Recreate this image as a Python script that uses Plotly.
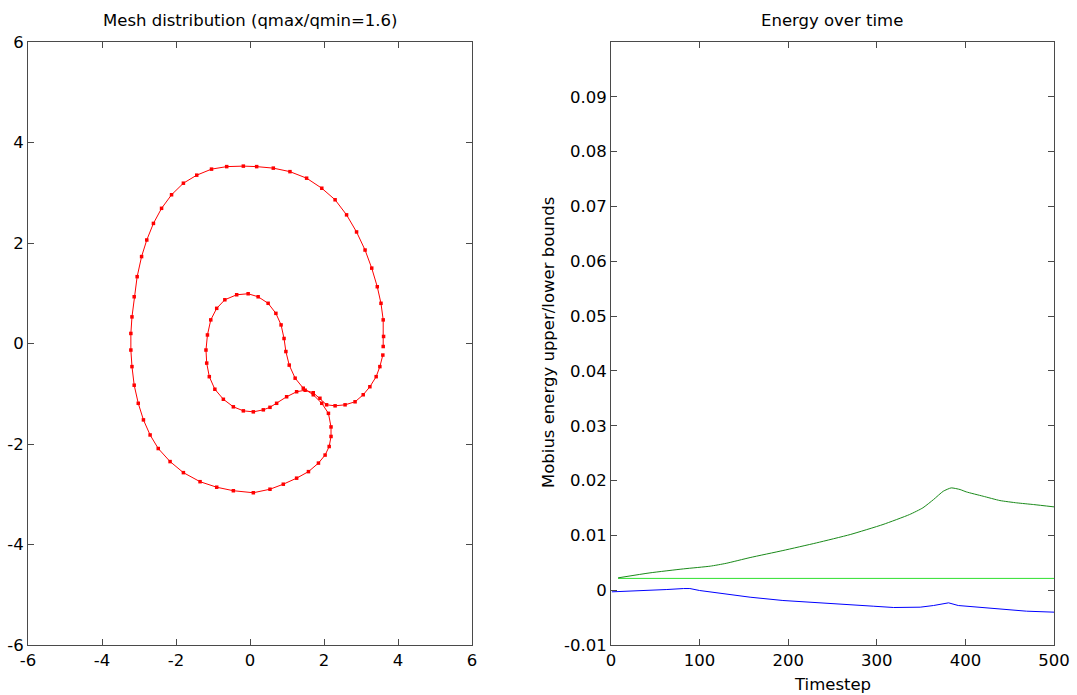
import plotly.graph_objects as go

# ---- Left panel: mesh curve (data units) ----
mesh_x = [3.59, 3.51, 3.41, 3.24, 3.06, 2.84, 2.57, 2.30, 2.07, 1.89, 1.71, 1.49, 1.26, 0.99, 0.72,
          0.54, 0.36, 0.09, -0.18, -0.45, -0.72, -0.95, -1.10, -1.17, -1.19, -1.15, -1.06, -0.90,
          -0.68, -0.36, -0.05, 0.22, 0.49, 0.70, 0.84, 0.92, 0.97, 1.06, 1.22, 1.44, 1.71, 1.94,
          2.12, 2.19, 2.19, 2.14, 2.03, 1.85, 1.58, 1.26, 0.90, 0.54, 0.09, -0.45, -0.90, -1.35,
          -1.80, -2.16, -2.48, -2.70, -2.88, -3.02, -3.13, -3.19, -3.22, -3.22, -3.19, -3.13, -3.05,
          -2.93, -2.79, -2.61, -2.39, -2.12, -1.80, -1.44, -1.04, -0.63, -0.18, 0.18, 0.63, 1.08,
          1.53, 1.94, 2.30, 2.61, 2.88, 3.11, 3.29, 3.44, 3.54, 3.60, 3.61, 3.60]
mesh_y = [-0.23, -0.46, -0.66, -0.86, -1.02, -1.16, -1.22, -1.24, -1.22, -1.09, -0.98, -0.93, -0.96,
          -1.06, -1.19, -1.27, -1.32, -1.36, -1.34, -1.26, -1.11, -0.91, -0.66, -0.39, -0.13, 0.17,
          0.47, 0.70, 0.87, 0.97, 0.99, 0.93, 0.80, 0.60, 0.37, 0.10, -0.16, -0.43, -0.69, -0.89,
          -1.02, -1.19, -1.39, -1.66, -1.85, -2.05, -2.22, -2.38, -2.55, -2.68, -2.80, -2.90, -2.97,
          -2.93, -2.86, -2.75, -2.57, -2.35, -2.09, -1.82, -1.52, -1.19, -0.83, -0.46, -0.13, 0.20,
          0.53, 0.93, 1.33, 1.73, 2.06, 2.39, 2.69, 2.96, 3.19, 3.35, 3.47, 3.52, 3.53, 3.52, 3.49,
          3.42, 3.29, 3.09, 2.86, 2.56, 2.22, 1.86, 1.50, 1.13, 0.80, 0.47, 0.14, -0.06]

mesh_ticks = [-6, -4, -2, 0, 2, 4, 6]
mesh_ticktext = ["-6", "-4", "-2", "0", "2", "4", "6"]

# ---- Right panel: energy bounds over time ----
upper_t = [8, 44, 82, 112, 130, 157, 194, 232, 270, 307, 337, 352, 364, 375, 384, 394, 401,
           420, 439, 458, 477, 500]
upper_e = [0.00225, 0.00316, 0.00389, 0.00438, 0.00490, 0.00595, 0.00723, 0.00863, 0.01015,
           0.01198, 0.0138, 0.01502, 0.01653, 0.01805, 0.01866, 0.01836, 0.01793, 0.01714,
           0.01635, 0.01593, 0.01562, 0.0152]
lower_t = [1, 25, 44, 63, 82, 89, 100, 127, 157, 194, 232, 258, 296, 319, 349, 364, 381, 392,
           401, 420, 439, 469, 500]
lower_e = [-0.0003, -0.00018, -0.00006, 0.00012, 0.0003, 0.0003, -0.00006, -0.00067, -0.00128,
           -0.00188, -0.00231, -0.00261, -0.00292, -0.00316, -0.0031, -0.0028, -0.00231, -0.0028,
           -0.00292, -0.00322, -0.00347, -0.00383, -0.00401]
initial_t = [8, 500]
initial_e = [0.00215, 0.00215]

energy_ticks = [-0.01, 0, 0.01, 0.02, 0.03, 0.04, 0.05, 0.06, 0.07, 0.08, 0.09]
energy_ticktext = ["-0.01", "0", "0.01", "0.02", "0.03", "0.04", "0.05", "0.06", "0.07", "0.08", "0.09"]
time_ticks = [0, 100, 200, 300, 400, 500]

FONT = "DejaVu Sans, Liberation Sans, sans-serif"
FS = 16.5
W, H = 1077, 695
frame_top, frame_bot = 42, 645
ydom = [1 - frame_bot / H, 1 - frame_top / H]

fig = go.Figure()
fig.add_trace(go.Scatter(x=mesh_x, y=mesh_y, mode="lines+markers", xaxis="x", yaxis="y",
                         line=dict(color="#ff0000", width=1),
                         marker=dict(color="#ff0000", size=3.5, symbol="square")))
fig.add_trace(go.Scatter(x=initial_t, y=initial_e, mode="lines", xaxis="x2", yaxis="y2",
                         line=dict(color="#2ee02e", width=1)))
fig.add_trace(go.Scatter(x=upper_t, y=upper_e, mode="lines", xaxis="x2", yaxis="y2",
                         line=dict(color="#1a8a1a", width=1, shape="spline", smoothing=0.5)))
fig.add_trace(go.Scatter(x=lower_t, y=lower_e, mode="lines", xaxis="x2", yaxis="y2",
                         line=dict(color="#0000ff", width=1)))

axis_common = dict(showgrid=False, zeroline=False, showline=True, linecolor="#4a4a4a", linewidth=1,
                   mirror="ticks", ticks="inside", ticklen=6, tickcolor="#4a4a4a", automargin=False,
                   tickfont=dict(family=FONT, size=FS, color="#000000"))

fig.update_layout(
    width=W, height=H, margin=dict(l=0, r=0, t=0, b=0),
    paper_bgcolor="white", plot_bgcolor="white", showlegend=False,
    xaxis=dict(domain=[28 / W, 472 / W], range=[-6, 6], tickvals=mesh_ticks, ticktext=mesh_ticktext,
               anchor="y", **axis_common),
    yaxis=dict(domain=ydom, range=[-6, 6], tickvals=mesh_ticks, ticktext=mesh_ticktext,
               anchor="x", **axis_common),
    xaxis2=dict(domain=[611 / W, 1054 / W], range=[0, 500], tickvals=time_ticks, anchor="y2", **axis_common),
    yaxis2=dict(domain=ydom, range=[-0.01, 0.1], tickvals=energy_ticks, ticktext=energy_ticktext,
                anchor="x2", **axis_common),
    annotations=[
        dict(text="Mesh distribution (qmax/qmin=1.6)", x=250 / W, y=1 - 20 / H, xref="paper", yref="paper",
             showarrow=False, xanchor="center", yanchor="middle", font=dict(family=FONT, size=FS, color="black")),
        dict(text="Energy over time", x=832 / W, y=1 - 20 / H, xref="paper", yref="paper",
             showarrow=False, xanchor="center", yanchor="middle", font=dict(family=FONT, size=FS, color="black")),
        dict(text="Timestep", x=832 / W, y=1 - 684 / H, xref="paper", yref="paper",
             showarrow=False, xanchor="center", yanchor="middle", font=dict(family=FONT, size=FS, color="black")),
        dict(text="Mobius energy upper/lower bounds", x=548 / W, y=1 - 343 / H, xref="paper", yref="paper",
             showarrow=False, xanchor="center", yanchor="middle", textangle=-90,
             font=dict(family=FONT, size=FS, color="black")),
    ],
)

fig.write_html("out.html")
